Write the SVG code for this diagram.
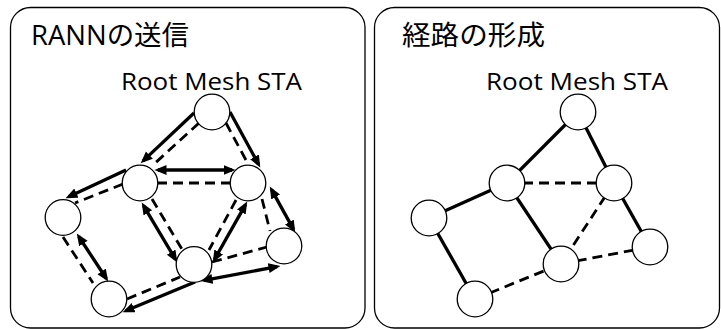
<svg xmlns="http://www.w3.org/2000/svg" width="721" height="329" viewBox="0 0 721 329">
  <style>
    .frame { fill: #ffffff; stroke: #000000; stroke-width: 1.3; }
    .title { font-family: "Open Sans", "Noto Sans CJK JP", sans-serif; font-size: 27px; fill: #000000; }
    .label { font-family: "Open Sans", "Noto Sans CJK JP", sans-serif; font-size: 24.5px; fill: #000000; }
    .node circle { fill: #ffffff; stroke: #000000; stroke-width: 1.3; }
    .solid { fill: none; stroke: #000000; stroke-width: 3.3; }
    .dash { fill: none; stroke: #000000; stroke-width: 2.8; stroke-dasharray: 10 6; }
    .one { marker-end: url(#head); }
    .two { marker-start: url(#head); marker-end: url(#head); }
  </style>
  <defs>
    <marker id="head" markerUnits="userSpaceOnUse" markerWidth="13" markerHeight="11" refX="8.5" refY="5" orient="auto-start-reverse">
      <path d="M0,0 L12,5 L0,10 z" fill="#000000"/>
    </marker>
  </defs>

  <!-- panel frames -->
  <rect class="frame" x="10.5" y="7.5" width="354.5" height="320.5" rx="20" ry="20"/>
  <rect class="frame" x="374.5" y="7.5" width="345" height="320.5" rx="20" ry="20"/>

  <!-- titles -->
  <text class="title" x="31" y="45" textLength="158" lengthAdjust="spacingAndGlyphs">RANNの送信</text>
  <text class="title" x="402" y="45" textLength="143" lengthAdjust="spacingAndGlyphs">経路の形成</text>
  <text class="label" x="121" y="90" textLength="181" lengthAdjust="spacingAndGlyphs">Root Mesh STA</text>
  <text class="label" x="486" y="90" textLength="182" lengthAdjust="spacingAndGlyphs">Root Mesh STA</text>

  <!-- left panel: RANN flooding -->
  <g id="connectors-rann">
    <line class="solid one" x1="194" y1="113" x2="143.2" y2="160.9"/>
    <line class="dash" x1="199" y1="123" x2="153" y2="165"/>

    <line class="solid one" x1="230" y1="112" x2="258.6" y2="164.4"/>
    <line class="dash" x1="226" y1="123" x2="247" y2="162"/>

    <line class="solid two" x1="158" y1="170" x2="232" y2="170"/>
    <line class="dash" x1="157" y1="183" x2="232" y2="183"/>

    <line class="solid one" x1="126" y1="170" x2="68.7" y2="196.7"/>
    <line class="dash" x1="123" y1="184" x2="75" y2="203"/>

    <line class="solid two" x1="78.7" y1="236.5" x2="106.3" y2="278.5"/>
    <line class="dash" x1="63" y1="237" x2="93" y2="283"/>

    <line class="solid two" x1="143.5" y1="205.6" x2="175.5" y2="259.4"/>
    <line class="dash" x1="152" y1="199" x2="183" y2="251"/>

    <line class="solid two" x1="245.5" y1="204.6" x2="214.5" y2="259.4"/>
    <line class="dash" x1="236" y1="200" x2="209" y2="250"/>

    <line class="solid two" x1="271.5" y1="189.6" x2="293.5" y2="229.4"/>
    <line class="dash" x1="262" y1="199" x2="270" y2="231"/>

    <line class="solid two" x1="204" y1="280.4" x2="277" y2="266.6"/>
    <line class="dash" x1="212" y1="262" x2="267" y2="247"/>

    <line class="solid one" x1="195" y1="282" x2="125.8" y2="310.8"/>
    <line class="dash" x1="127" y1="299" x2="180" y2="277"/>
  </g>

  <!-- right panel: formed paths -->
  <g id="connectors-path">
    <line class="solid" x1="578" y1="112" x2="507" y2="183"/>
    <line class="solid" x1="578" y1="112" x2="614" y2="183"/>
    <line class="dash" x1="507" y1="183" x2="614" y2="183"/>
    <line class="solid" x1="507" y1="183" x2="429" y2="218"/>
    <line class="solid" x1="429" y1="218" x2="475" y2="299"/>
    <line class="solid" x1="507" y1="183" x2="561" y2="264"/>
    <line class="dash" x1="614" y1="183" x2="561" y2="264"/>
    <line class="solid" x1="614" y1="183" x2="650" y2="247"/>
    <line class="dash" x1="561" y1="264" x2="650" y2="247"/>
    <line class="dash" x1="475" y1="299" x2="561" y2="264"/>
  </g>

  <!-- left panel stations -->
  <g id="rann-root" class="node"><circle cx="212" cy="112" r="17.8"/></g>
  <g id="rann-a" class="node"><circle cx="140" cy="183" r="17.8"/></g>
  <g id="rann-b" class="node"><circle cx="248" cy="183" r="17.8"/></g>
  <g id="rann-c" class="node"><circle cx="63" cy="217.5" r="17.8"/></g>
  <g id="rann-d" class="node"><circle cx="284" cy="246" r="17.8"/></g>
  <g id="rann-e" class="node"><circle cx="194" cy="264.5" r="17.8"/></g>
  <g id="rann-f" class="node"><circle cx="109" cy="299" r="17.8"/></g>

  <!-- right panel stations -->
  <g id="path-root" class="node"><circle cx="578" cy="112" r="17.8"/></g>
  <g id="path-a" class="node"><circle cx="507" cy="183" r="17.8"/></g>
  <g id="path-b" class="node"><circle cx="614" cy="183" r="17.8"/></g>
  <g id="path-c" class="node"><circle cx="429" cy="218" r="17.8"/></g>
  <g id="path-d" class="node"><circle cx="650" cy="247" r="17.8"/></g>
  <g id="path-e" class="node"><circle cx="561" cy="264" r="17.8"/></g>
  <g id="path-f" class="node"><circle cx="475" cy="299" r="17.8"/></g>
</svg>
